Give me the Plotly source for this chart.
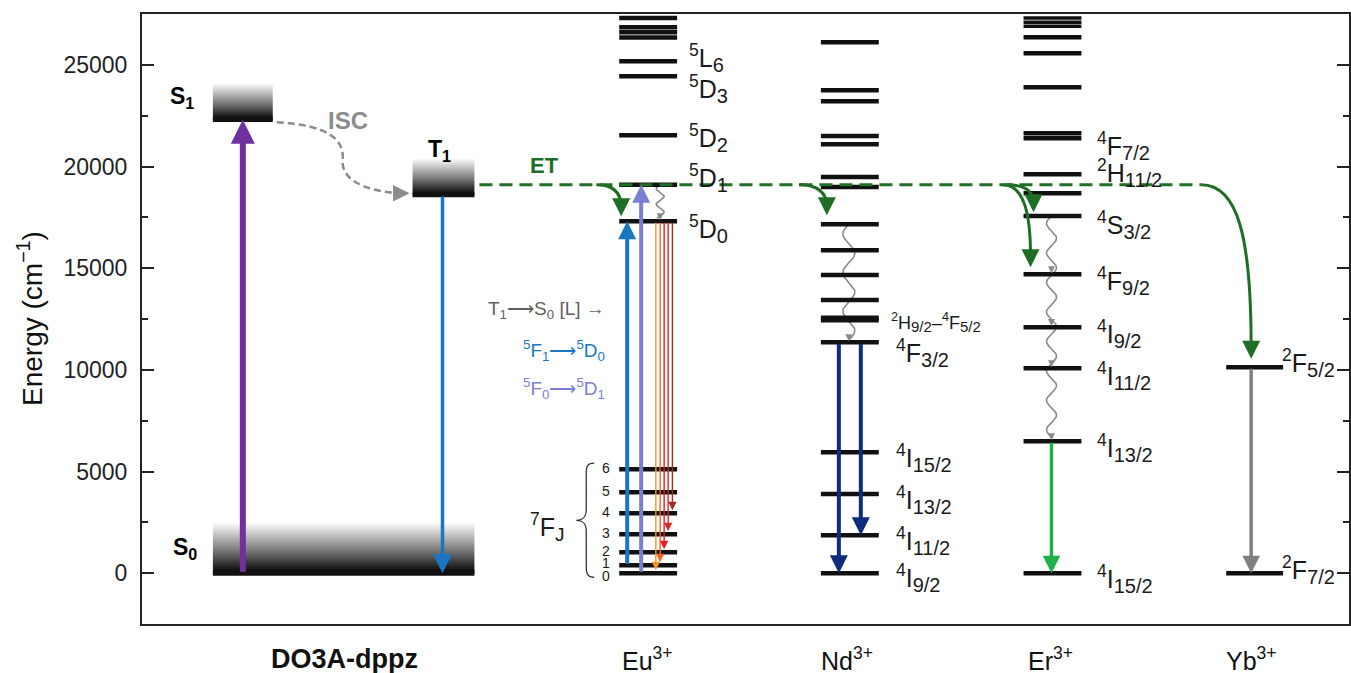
import numpy as np
import plotly.graph_objects as go

# ---------------- data ----------------
y_major = [0, 5000, 10000, 15000, 20000, 25000]
categories = ["<b>DO3A-dppz</b>", "Eu<sup>3+</sup>", "Nd<sup>3+</sup>", "Er<sup>3+</sup>", "Yb<sup>3+</sup>"]
cat_x = [2.03, 5.06, 7.06, 9.10, 11.11]
y_title = "Energy (cm<sup>−1</sup>)"

# ligand (DO3A-dppz) states
lig_S0 = 0
lig_S1 = 22300
lig_T1 = 18600
ET_energy = 19100

# Eu3+
eu_levels = [27300, 26850, 26600, 26350, 25180, 24440, 21540, 19100, 17310]
eu_7F = [0, 390, 1030, 1920, 2950, 3980, 5110]
eu_7F_names = ["0", "1", "2", "3", "4", "5", "6"]
eu_7F_label_E = [-120, 480, 1090, 1980, 3010, 4040, 5170]
eu_labels = [("5", "L", "6"), ("5", "D", "3"), ("5", "D", "2"), ("5", "D", "1"), ("5", "D", "0")]
eu_label_E = [25350, 23800, 21400, 19450, 16950]
eu_5D0 = 17310
eu_5D1 = 19100
eu_emis_targets = [0, 390, 1030, 1920, 2950]
eu_emis_colors = ["#f7941d", "#f26522", "#ed1c24", "#d42a2a", "#9e2a2a"]

# Nd3+
nd_levels = [26110, 23750, 23210, 21500, 21100, 19480, 18990, 17160, 15880, 14660, 13430,
             12560, 12440, 11360, 5950, 3890, 1870, 0]
nd_labels = [("4", "F", "3/2"), ("4", "I", "15/2"), ("4", "I", "13/2"), ("4", "I", "11/2"), ("4", "I", "9/2")]
nd_label_E = [10850, 5650, 3600, 1600, -250]
nd_4F32 = 11360
nd_targets = [0, 1870]

# Er3+
er_levels = [27300, 27100, 26900, 26360, 25570, 23900, 21640, 21390, 19620, 18690, 17560,
             14700, 12100, 10080, 6490, 0]
er_labels = [("4", "F", "7/2"), ("2", "H", "11/2"), ("4", "S", "3/2"), ("4", "F", "9/2"),
             ("4", "I", "9/2"), ("4", "I", "11/2"), ("4", "I", "13/2"), ("4", "I", "15/2")]
er_label_E = [21000, 19700, 17100, 14350, 11750, 9700, 6150, -300]
er_cascade = [17560, 14700, 12100, 10080, 6490]

# Yb3+
yb_levels = [10130, 0]
yb_labels = [("2", "F", "5/2"), ("2", "F", "7/2")]
yb_label_E = [10350, 150]

# ---------------- layout positions ----------------
S1_x = (0.71, 1.31)
T1_x = (2.71, 3.33)
EU_x = (4.78, 5.36)
ND_x = (6.80, 7.38)
ER_x = (8.83, 9.41)
YB_x = (10.86, 11.43)

FONT = "Arial, Liberation Sans, sans-serif"
BLACK = "#111111"
ET_GREEN = "#1f6e25"

fig = go.Figure()
shapes = []
ann = []


def term(sup, main, sub, subsize=20):
    return "<sup>%s</sup>%s<sub><span style='font-size:%dpx'>%s</span></sub>" % (sup, main, subsize, sub)


def level(x0, x1, y, w=4.5, color=BLACK):
    shapes.append(dict(type="line", xref="x", yref="y", x0=x0, x1=x1, y0=y, y1=y,
                       line=dict(color=color, width=w)))


def arrow(x, y_from, y_to, color, width, size, x_from=None):
    ann.append(dict(x=x, y=y_to, ax=x if x_from is None else x_from, ay=y_from,
                    xref="x", yref="y", axref="x", ayref="y", text="",
                    showarrow=True, arrowhead=2, arrowsize=size, arrowwidth=width,
                    arrowcolor=color, standoff=0, startstandoff=0))


def text(x, y, s, size=25, color="#1a1a1a", xanchor="left", bold=False):
    ann.append(dict(x=x, y=y, xref="x", yref="y", text=("<b>%s</b>" % s) if bold else s,
                    showarrow=False, xanchor=xanchor, yanchor="middle",
                    font=dict(family=FONT, size=size, color=color)))


def gradient_box(x0, x1, y0, y1):
    fig.add_trace(go.Scatter(x=[x0, x1, x1, x0, x0], y=[y0, y0, y1, y1, y0], mode="lines",
                             line=dict(width=0), fill="toself",
                             fillgradient=dict(type="vertical",
                                               colorscale=[[0, "#000000"], [0.45, "#7a7a7a"], [1, "#ffffff"]]),
                             hoverinfo="skip", showlegend=False))


def wave(xc, y_top, y_bot, amp, period, color="#8a8a8a"):
    yy = np.linspace(y_top, y_bot, 200)
    xx = xc + amp * np.sin(2 * np.pi * (yy - y_top) / period)
    fig.add_trace(go.Scatter(x=xx, y=yy, mode="lines", line=dict(color=color, width=1.6),
                             hoverinfo="skip", showlegend=False))


# gradient boxes for ligand states
gradient_box(S1_x[0], S1_x[1], lig_S1, 24100)
gradient_box(T1_x[0], T1_x[1], lig_T1, 20400)
gradient_box(S1_x[0], T1_x[1], lig_S0, 2500)

# wavy non-radiative relaxations
wave(5.19, eu_5D1, eu_5D0 + 150, 0.04, 760)
wave(7.08, 17160, nd_4F32 + 150, 0.06, 1900)
wave(9.11, er_cascade[0], er_cascade[-1] + 150, 0.05, 1450)

# ligand levels
level(S1_x[0], S1_x[1], lig_S1)
level(T1_x[0], T1_x[1], lig_T1)
level(S1_x[0], T1_x[1], lig_S0, w=5)

# Ln levels
for e in eu_levels:
    level(EU_x[0], EU_x[1], e)
for e in eu_7F:
    level(EU_x[0], EU_x[1], e)
for e in nd_levels:
    level(ND_x[0], ND_x[1], e)
for e in er_levels:
    level(ER_x[0], ER_x[1], e, w=3.5 if e > 26800 else 4.5)
for e in yb_levels:
    level(YB_x[0], YB_x[1], e)

# ISC dashed curve
shapes.append(dict(type="path", xref="x", yref="y",
                   path="M 1.35,22180 C 1.88,22030 2.03,21290 2.01,20310 C 1.99,19080 2.38,18690 2.62,18690",
                   line=dict(color="#8c8c8c", width=2.5, dash="7px,4px")))
ann.append(dict(x=2.68, y=18690, ax=2.55, ay=18690, xref="x", yref="y", axref="x", ayref="y",
                text="", showarrow=True, arrowhead=2, arrowsize=1.5, arrowwidth=2.2,
                arrowcolor="#8c8c8c", standoff=0))

# ET dashed line
shapes.append(dict(type="line", xref="x", yref="y", x0=3.38, x1=10.61, y0=ET_energy, y1=ET_energy,
                   line=dict(color=ET_GREEN, width=3, dash="13px,7px")))

# ET curved arrows
et_curves = [
    ("M 4.55,19100 C 4.70,19100 4.80,18800 4.80,18000", 4.80, 17550),
    ("M 6.58,19100 C 6.75,19100 6.86,18800 6.86,18000", 6.86, 17600),
    ("M 8.66,19100 C 8.84,19100 8.93,18800 8.93,18200", 8.93, 17750),
    ("M 8.62,19100 C 8.84,19100 8.90,17600 8.90,15600", 8.90, 15050),
    ("M 10.61,19100 C 10.98,19100 11.11,16500 11.11,11100", 11.11, 10550),
]
for p, xt, yt in et_curves:
    shapes.append(dict(type="path", xref="x", yref="y", path=p,
                       line=dict(color=ET_GREEN, width=3)))
    arrow(xt, yt + 700, yt, ET_GREEN, 3, 1.2)

# straight arrows
arrow(1.01, lig_S0, lig_S1, "#7030a0", 6, 0.8)
arrow(3.01, lig_T1, lig_S0, "#1a75c2", 3.5, 1.1)
arrow(4.86, eu_7F[1], eu_5D0, "#1a75c2", 4, 0.9)
arrow(5.00, eu_7F[0], eu_5D1, "#7a7ed0", 4, 0.9)
for xe, tgt, col in zip([5.147, 5.19, 5.23, 5.27, 5.313], eu_emis_targets, eu_emis_colors):
    arrow(xe, eu_5D0, tgt + 150, col, 1.4, 1.2)
arrow(6.98, nd_4F32, nd_targets[0], "#0e2b7c", 4, 0.9)
arrow(7.20, nd_4F32, nd_targets[1], "#0e2b7c", 4, 0.9)
arrow(9.11, er_cascade[-1], 0, "#20b04b", 3.5, 1.0)
arrow(11.11, yb_levels[0], 0, "#808080", 3.5, 1.0)

# small heads on the wavy relaxations
arrow(5.19, eu_5D0 + 400, eu_5D0 + 50, "#8a8a8a", 1.4, 1.0)
arrow(7.08, nd_4F32 + 400, nd_4F32 + 50, "#8a8a8a", 1.4, 1.0)
for e in er_cascade[1:]:
    arrow(9.11, e + 400, e + 50, "#8a8a8a", 1.4, 1.0)

# ligand labels
text(0.40, 23400, "S<sub>1</sub>", size=23, bold=True, xanchor="center", color="#000")
text(2.98, 20800, "T<sub>1</sub>", size=23, bold=True, xanchor="center", color="#000")
text(0.43, 1230, "S<sub>0</sub>", size=23, bold=True, xanchor="center", color="#000")
text(2.06, 22280, "ISC", size=24, bold=True, xanchor="center", color="#8c8c8c")
text(4.03, 20070, "ET", size=22, bold=True, xanchor="center", color=ET_GREEN)

# Eu labels
for (a, b, c), e in zip(eu_labels, eu_label_E):
    text(5.46, e, term(a, b, c), size=25)
for s, e in zip(eu_7F_names, eu_7F_label_E):
    text(4.65, e, s, size=14, xanchor="center")
text(4.06, 2260, "<sup>7</sup>F<sub><span style='font-size:19px'>J</span></sub>", size=25, xanchor="center")
text(4.66, 12930, "T<sub>1</sub>⟶S<sub>0</sub> [L] →", size=19, color="#5f5f5f", xanchor="right")
text(4.66, 10970, "<sup>5</sup>F<sub>1</sub>⟶<sup>5</sup>D<sub>0</sub>", size=19, color="#1a75c2", xanchor="right")
text(4.66, 9100, "<sup>5</sup>F<sub>0</sub>⟶<sup>5</sup>D<sub>1</sub>", size=19, color="#7a7ed0", xanchor="right")
# brace for 7FJ
shapes.append(dict(type="path", xref="x", yref="y",
                   path=("M 4.53,5410 C 4.46,5410 4.45,5250 4.45,4900 L 4.45,3150 "
                         "C 4.45,2750 4.42,2600 4.35,2600 C 4.42,2600 4.45,2450 4.45,2050 "
                         "L 4.45,350 C 4.45,0 4.46,-200 4.53,-200"),
                   line=dict(color="#333333", width=1.3)))

# Nd labels
text(7.48, 12340, "<sup>2</sup>H<sub><span style='font-size:15px'>9/2</span></sub>–<sup>4</sup>F"
     "<sub><span style='font-size:15px'>5/2</span></sub>", size=18)
for (a, b, c), e in zip(nd_labels, nd_label_E):
    text(7.53, e, term(a, b, c), size=25)

# Er labels
for (a, b, c), e in zip(er_labels, er_label_E):
    text(9.55, e, term(a, b, c), size=25)

# Yb labels
for (a, b, c), e in zip(yb_labels, yb_label_E):
    text(11.40, e, term(a, b, c), size=25)

# category labels below axis
for s, xc in zip(categories, cat_x):
    ann.append(dict(x=xc, y=0, xref="x", yref="paper", yshift=-35, text=s, showarrow=False,
                    xanchor="center", yanchor="middle",
                    font=dict(family=FONT, size=27 if "DO3A" in s else 25, color="#111")))

# y-axis title (as rotated annotation to place it like the reference)
ann.append(dict(x=0, y=0.5, xref="paper", yref="paper", xshift=-112, text=y_title,
                textangle=-90, showarrow=False, xanchor="center", yanchor="middle",
                font=dict(family=FONT, size=28, color="#111")))

fig.update_layout(
    width=1351, height=673,
    margin=dict(l=142, r=0, t=14, b=49),
    paper_bgcolor="white", plot_bgcolor="white",
    showlegend=False,
    shapes=shapes, annotations=ann,
    xaxis=dict(range=[0, 12.09], showgrid=False, zeroline=False, showticklabels=False,
               ticks="", showline=True, mirror=True, linecolor="#222", linewidth=2),
    yaxis=dict(range=[-2500, 27500], tickvals=y_major, ticktext=[str(v) for v in y_major],
               showgrid=False, zeroline=False, ticks="inside", ticklen=12, tickwidth=2,
               tickcolor="#222", showline=True, mirror="ticks", linecolor="#222", linewidth=2,
               minor=dict(ticks="inside", ticklen=6, tickwidth=2, dtick=2500, tick0=0, tickcolor="#222"),
               ticklabelstandoff=8,
               tickfont=dict(family=FONT, size=23, color="#222")),
)

fig.write_html("out.html", config={"displayModeBar": False},
               post_script="document.body.style.margin='0px';")
